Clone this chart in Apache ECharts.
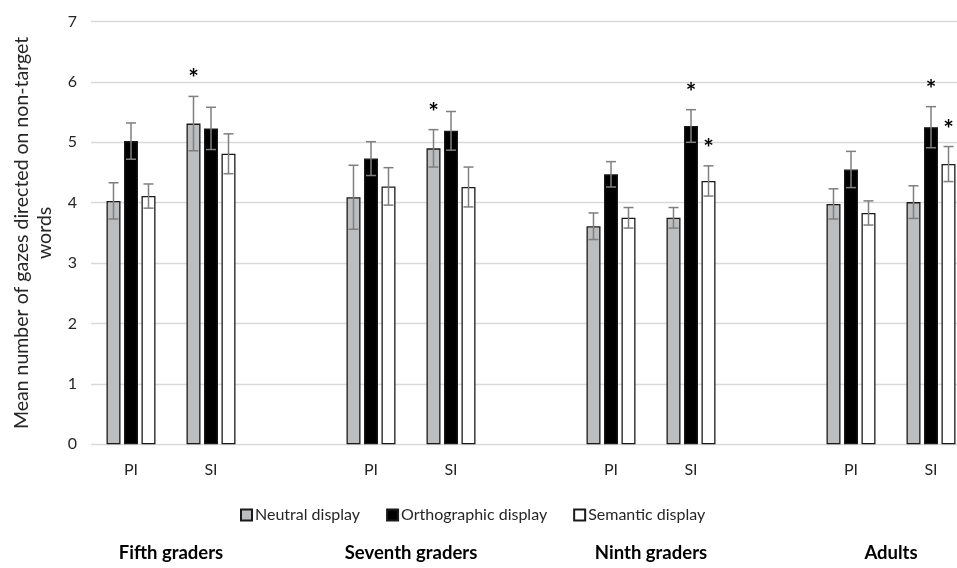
<!DOCTYPE html>
<html>
<head>
<meta charset="utf-8">
<script src="https://cdn.jsdelivr.net/npm/echarts@6/dist/echarts.min.js"></script>
<style>
  html, body { margin: 0; padding: 0; background: #fff; overflow: hidden; }
  /* the plot runs past the right edge of the picture, so the canvas is wider than the window */
  #chart { width: 1000px; height: 568px; }
</style>
</head>
<body>
<div id="chart"></div>
<script>
// slots: PI, SI per group, with an empty slot between groups
const groups = ['Fifth graders', 'Seventh graders', 'Ninth graders', 'Adults'];
const conditions = ['PI', 'SI'];
const yTicks = [0, 1, 2, 3, 4, 5, 6, 7];

// means (PI, SI) per group, in group order
const neutral = [4.03, 5.31, 4.09, 4.90, 3.61, 3.75, 3.98, 4.01];
const orthographic = [5.02, 5.23, 4.73, 5.19, 4.47, 5.27, 4.55, 5.25];
const semantic = [4.11, 4.81, 4.27, 4.26, 3.75, 4.36, 3.83, 4.64];

// error bar half-lengths
const neutralErr = [0.30, 0.45, 0.53, 0.31, 0.22, 0.17, 0.25, 0.27];
const orthographicErr = [0.30, 0.35, 0.28, 0.32, 0.21, 0.27, 0.30, 0.34];
const semanticErr = [0.20, 0.33, 0.31, 0.33, 0.17, 0.25, 0.20, 0.29];

// significance stars
const neutralSig = [0, 1, 0, 1, 0, 0, 0, 0];
const orthographicSig = [0, 0, 0, 0, 0, 1, 0, 1];
const semanticSig = [0, 0, 0, 0, 0, 1, 0, 1];

const FONT = 'Lato';

// build 11 category slots
const categories = [];
const slotIndex = [];
groups.forEach((g, gi) => {
    conditions.forEach(c => {
        slotIndex.push(categories.length);
        categories.push(c);
    });
    if (gi < groups.length - 1) categories.push('');
});

const toSlots = (arr) => {
    const out = categories.map(() => '-');
    arr.forEach((v, i) => { out[slotIndex[i]] = v; });
    return out;
};

const barW = 14;
const pitch = barW * 1.25;

const displays = [
    { name: 'Neutral display', color: '#bcbdbf', data: neutral, err: neutralErr, sig: neutralSig },
    { name: 'Orthographic display', color: '#000000', data: orthographic, err: orthographicErr, sig: orthographicSig },
    { name: 'Semantic display', color: '#ffffff', data: semantic, err: semanticErr, sig: semanticSig }
];

const barSeries = displays.map(d => ({
    name: d.name,
    type: 'bar',
    barWidth: barW,
    barGap: '25%',
    data: toSlots(d.data),
    itemStyle: { color: d.color, borderColor: '#1a1a1a', borderWidth: 1.3 },
    emphasis: { disabled: true },
    z: 2
}));

const errSeries = displays.map((d, di) => ({
    type: 'custom',
    name: d.name + ' err',
    data: d.data.map((v, i) => [slotIndex[i], v, d.err[i], d.sig[i]]),
    z: 5,
    silent: true,
    renderItem: (params, api) => {
        const x = api.coord([api.value(0), 0])[0] + (di - 1) * pitch;
        const hi = api.coord([api.value(0), api.value(1) + api.value(2)])[1];
        const lo = api.coord([api.value(0), api.value(1) - api.value(2)])[1];
        const cap = 5;
        const style = { stroke: '#7f7f7f', lineWidth: 1.5 };
        const children = [
            { type: 'line', shape: { x1: x, y1: hi, x2: x, y2: lo }, style },
            { type: 'line', shape: { x1: x - cap, y1: hi, x2: x + cap, y2: hi }, style },
            { type: 'line', shape: { x1: x - cap, y1: lo, x2: x + cap, y2: lo }, style }
        ];
        if (api.value(3)) {
            children.push({
                type: 'text',
                style: {
                    text: '*', x: x, y: hi - 17,
                    align: 'center', verticalAlign: 'middle',
                    font: 'bold 25px ' + FONT, fill: '#000'
                }
            });
        }
        return { type: 'group', children };
    }
}));

const chart = echarts.init(document.getElementById('chart'), null, { renderer: 'canvas' });

chart.setOption({
    backgroundColor: '#fff',
    animation: false,
    textStyle: { fontFamily: FONT },
    grid: { left: 91, right: 29, top: 21.5, bottom: 123.7, containLabel: false, outerBoundsMode: 'none' },
    legend: {
        data: displays.map(d => d.name),
        top: 502,
        left: 235,
        itemWidth: 11,
        itemHeight: 11,
        itemGap: 26,
        icon: 'rect',
        selectedMode: false,
        textStyle: { fontSize: 16, color: '#262626', padding: [0, 0, 0, -2] }
    },
    xAxis: {
        type: 'category',
        data: categories,
        axisLine: { show: false },
        axisTick: { show: false },
        axisLabel: { fontSize: 16, color: '#262626', margin: 18, interval: 0 },
        splitLine: { show: false }
    },
    yAxis: {
        type: 'value',
        min: yTicks[0],
        max: yTicks[yTicks.length - 1],
        interval: 1,
        name: 'Mean number of gazes directed on non-target\nwords',
        nameLocation: 'middle',
        nameRotate: 90,
        nameGap: 35,
        nameTextStyle: { fontSize: 19.5, color: '#262626', lineHeight: 23 },
        axisLine: { show: false },
        axisTick: { show: false },
        axisLabel: { fontSize: 16, color: '#262626', margin: 14 },
        splitLine: { lineStyle: { color: '#d9d9d9', width: 1.3 } }
    },
    series: [...barSeries, ...errSeries]
});

// group labels centred under each PI/SI pair
const graphics = groups.map((g, gi) => {
    const a = chart.convertToPixel({ xAxisIndex: 0 }, slotIndex[gi * 2]);
    const b = chart.convertToPixel({ xAxisIndex: 0 }, slotIndex[gi * 2 + 1]);
    return {
        type: 'text',
        x: (a + b) / 2,
        y: 553,
        style: {
            text: g, align: 'center', verticalAlign: 'middle',
            font: 'bold 18.5px ' + FONT, fill: '#000'
        }
    };
});
chart.setOption({ graphic: graphics });
</script>
</body>
</html>
